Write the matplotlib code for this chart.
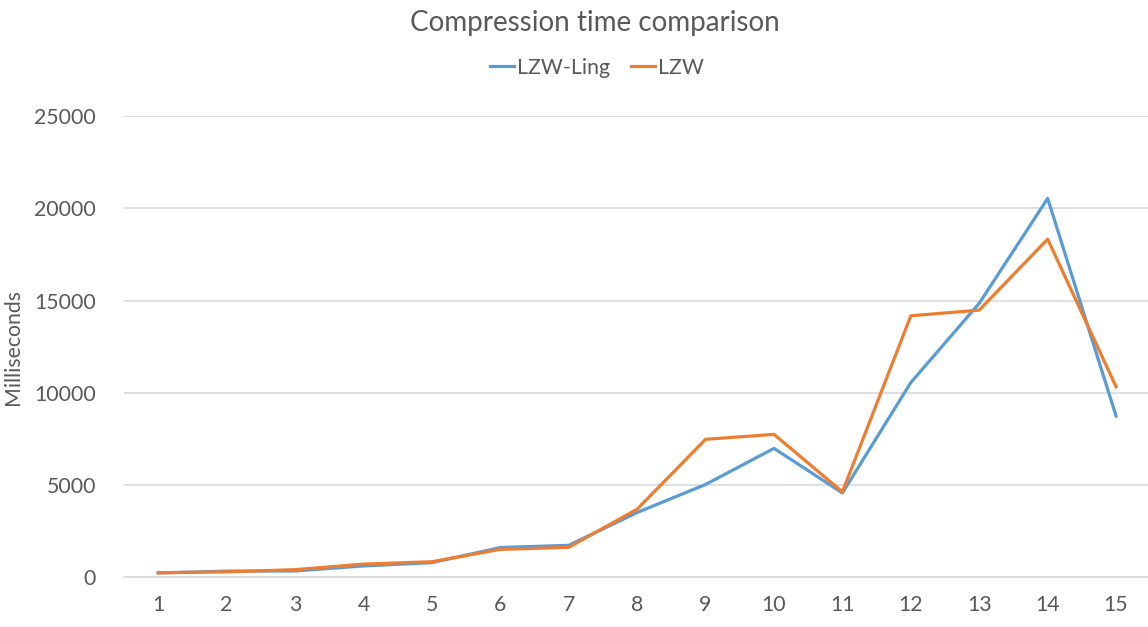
import matplotlib.pyplot as plt

# compression times (ms) per test file
files = list(range(1, 16))
lzw_ling = [220, 320, 330, 600, 780, 1600, 1720, 3500, 5020, 6980, 4560, 10550, 14850, 20540, 8730]
lzw = [230, 280, 400, 700, 830, 1500, 1610, 3680, 7470, 7740, 4620, 14170, 14480, 18330, 10320]

grey = '#595959'
plt.rcParams['font.family'] = ['Lato', 'DejaVu Sans']

fig = plt.figure(figsize=(11.48, 6.27), dpi=100)
ax = fig.add_axes([0.108, 0.0797, 0.894, 0.735])

ax.plot(files, lzw_ling, color='#5B9BD5', lw=2.3, label='LZW-Ling')
ax.plot(files, lzw, color='#ED7D31', lw=2.3, label='LZW')

ax.set_xlim(0.5, 15.5)
ax.set_ylim(0, 25000)
ax.set_xticks(files)
ax.set_yticks(range(0, 25001, 5000))
ax.grid(axis='y', color='#d9d9d9', lw=1.2)
ax.set_axisbelow(True)
for s in ['top', 'right', 'left']:
    ax.spines[s].set_visible(False)
ax.spines['bottom'].set_color('#d9d9d9')
ax.spines['bottom'].set_linewidth(1.2)
ax.tick_params(axis='both', length=0, labelsize=15.3, labelcolor=grey)
ax.tick_params(axis='y', pad=20)
ax.tick_params(axis='x', pad=13)

ax.set_ylabel('Milliseconds', fontsize=15.3, color=grey, labelpad=8)
fig.text(0.518, 0.963, 'Compression time comparison', ha='center', va='center',
         fontsize=20, color=grey)
fig.legend(loc='center', bbox_to_anchor=(0.52, 0.892), ncol=2, frameon=False,
           fontsize=15.3, labelcolor=grey, handlelength=1.1, handletextpad=0.15,
           columnspacing=1.0)

fig.savefig('out.png', dpi=100)
